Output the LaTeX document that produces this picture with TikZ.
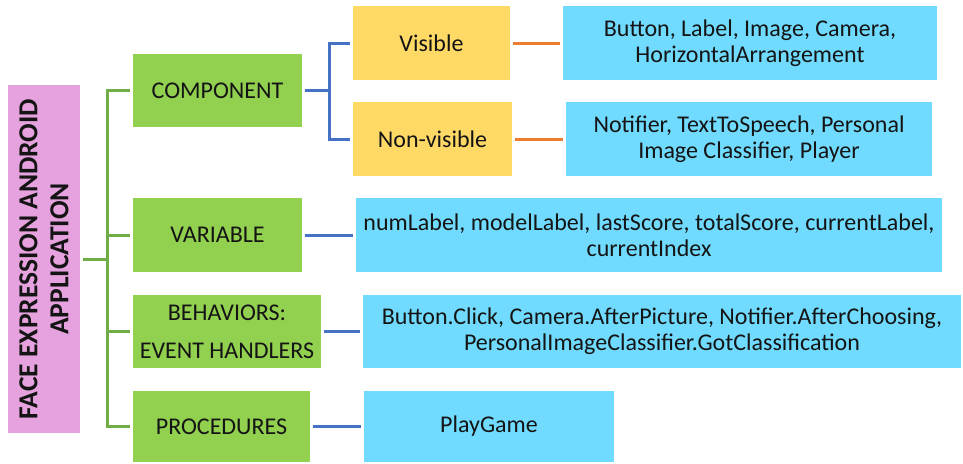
\documentclass[tikz,border=0pt]{standalone}
\usepackage{fontspec}
\setmainfont{Carlito}
\definecolor{rootfill}{RGB}{230,162,222}
\definecolor{catfill}{RGB}{146,208,80}
\definecolor{kindfill}{RGB}{255,217,102}
\definecolor{itemfill}{RGB}{112,219,255}
\definecolor{greenline}{RGB}{112,173,71}
\definecolor{blueline}{RGB}{68,114,196}
\definecolor{orangeline}{RGB}{237,125,49}
\definecolor{ink}{RGB}{20,20,20}
\tikzset{
  box/.style={rectangle, inner sep=0pt, align=center, text=ink, font=\fontsize{24}{26}\selectfont},
  rootbox/.style={box, fill=rootfill},
  catbox/.style={box, fill=catfill, font=\fontsize{24}{38}\selectfont},
  kindbox/.style={box, fill=kindfill},
  itembox/.style={box, fill=itemfill},
  gline/.style={draw=greenline, line width=3pt},
  bline/.style={draw=blueline, line width=3pt},
  oline/.style={draw=orangeline, line width=3pt},
}
\begin{document}
\begin{tikzpicture}[x=1pt,y=-1pt]
\useasboundingbox (0,0) rectangle (963,463);

% root
\node[rootbox, minimum width=72, minimum height=348] (root) at (44,259) {};
\node[rotate=90, align=center, text=ink, font=\fontsize{27.5}{31}\bfseries\selectfont] (roottext) at (root.center)
  {FACE EXPRESSION ANDROID\\APPLICATION};

% categories
\node[catbox, minimum width=169, minimum height=73] (comp) at (217.5,90.5) {COMPONENT};
\node[catbox, minimum width=169, minimum height=74] (var) at (217.5,235) {VARIABLE};
\node[catbox, minimum width=188, minimum height=73] (beh) at (227,331.5) {BEHAVIORS:\\EVENT HANDLERS};
\node[catbox, minimum width=177, minimum height=71] (proc) at (221.5,426.5) {PROCEDURES};

% component kinds
\node[kindbox, minimum width=157, minimum height=74] (vis) at (431.5,43) {Visible};
\node[kindbox, minimum width=159, minimum height=74] (nonvis) at (432.5,139) {Non-visible};

% items
\node[itembox, minimum width=374, minimum height=74] (visitems) at (750,43) {Button, Label, Image, Camera,\\HorizontalArrangement};
\node[itembox, minimum width=366, minimum height=74] (nonvisitems) at (749,139) {Notifier, TextToSpeech, Personal\\Image Classifier, Player};
\node[itembox, minimum width=586, minimum height=74] (varitems) at (649,235) {numLabel, modelLabel, lastScore, totalScore, currentLabel,\\currentIndex};
\node[itembox, minimum width=598, minimum height=73] (behitems) at (662,331.5) {Button.Click, Camera.AfterPicture, Notifier.AfterChoosing,\\PersonalImageClassifier.GotClassification};
\node[itembox, minimum width=250, minimum height=71] (procitems) at (489,426.5) {PlayGame};

% green tree from the root
\coordinate (trunk) at (107,0);
\draw[gline] ([xshift=3]root.east) -- (trunk |- root.east);
\draw[gline] ([xshift=-3]comp.west) -- (trunk |- comp.west) -- (trunk |- proc.west) -- ([xshift=-3]proc.west);
\draw[gline] (trunk |- var.west) -- ([xshift=-3]var.west);
\draw[gline] (trunk |- beh.west) -- ([xshift=-3]beh.west);

% blue fork from COMPONENT
\coordinate (fork) at (329,0);
\draw[bline] ([xshift=3]comp.east) -- (fork |- comp.east);
\draw[bline] ([xshift=-3]vis.west) -- (fork |- vis.west) -- (fork |- nonvis.west) -- ([xshift=-3]nonvis.west);

% blue links to the item lists
\draw[bline] ([xshift=3]var.east) -- ([xshift=-3]varitems.west);
\draw[bline] ([xshift=3]beh.east) -- ([xshift=-3]behitems.west);
\draw[bline] ([xshift=3]proc.east) -- ([xshift=-3]procitems.west);

% orange links
\draw[oline] ([xshift=3]vis.east) -- ([xshift=-3]visitems.west);
\draw[oline] ([xshift=3]nonvis.east) -- ([xshift=-3]nonvisitems.west);
\end{tikzpicture}
\end{document}
